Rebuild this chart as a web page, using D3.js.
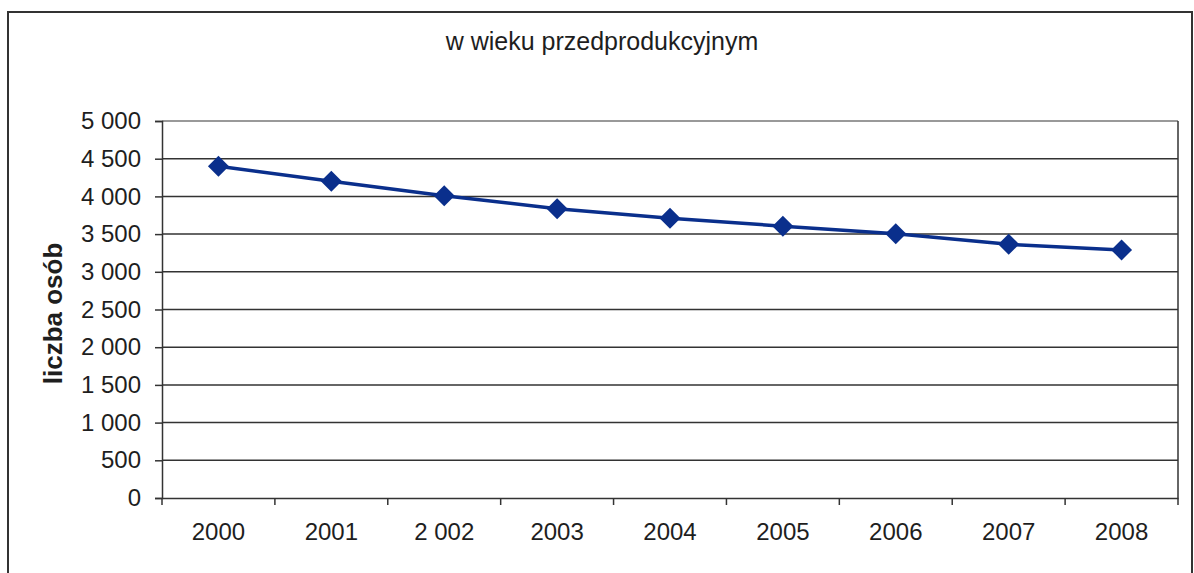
<!DOCTYPE html>
<html><head><meta charset="utf-8">
<script src="https://cdn.jsdelivr.net/npm/d3@7"></script>
<style>
body{margin:0;background:#fff;}
svg{display:block;font-family:"Liberation Sans",Arial,sans-serif;}
</style></head><body>
<svg id="c" width="1194" height="573"></svg>
<script>
const categories = ["2000","2001","2 002","2003","2004","2005","2006","2007","2008"];
const values = [4400, 4200, 4010, 3835, 3710, 3605, 3505, 3365, 3290];
const yTicks = [0,500,1000,1500,2000,2500,3000,3500,4000,4500,5000];
const title = "w wieku przedprodukcyjnym";
const yTitle = "liczba osób";

const svg = d3.select("#c");
const m = {left:162, right:1178, top:121, bottom:498};

// outer frame
svg.append("path").attr("d","M8,590 L8,12 L1192,12 L1192,590")
  .attr("fill","none").attr("stroke","#333").attr("stroke-width",2);

const x = d3.scaleBand().domain(categories).range([m.left,m.right]);
const y = d3.scaleLinear().domain([0,5000]).range([m.bottom,m.top]);
const fmt = v => d3.format(",")(v).replace(/,/g," ");

// gridlines
svg.append("g").selectAll("line").data(yTicks.filter(d=>d>0)).join("line")
  .attr("x1",m.left).attr("x2",m.right)
  .attr("y1",d=>y(d)).attr("y2",d=>y(d))
  .attr("stroke",d=>d===5000?"#777":"#333").attr("stroke-width",1.5);
// right border of plot
svg.append("line").attr("x1",m.right).attr("x2",m.right).attr("y1",m.top).attr("y2",m.bottom)
  .attr("stroke","#333").attr("stroke-width",1.5);

// y axis
const yAxis = d3.axisLeft(y).tickValues(yTicks).tickFormat(fmt).tickSizeOuter(0).tickSize(7).tickPadding(14);
const gy = svg.append("g").attr("transform",`translate(${m.left},0)`).call(yAxis);
gy.attr("font-size",null).attr("font-family",null);
gy.selectAll("text").attr("font-size",24).attr("fill","#1e1e1e");
gy.selectAll("line,path").attr("stroke","#333").attr("stroke-width",1.5);

// x axis
const xAxis = d3.axisBottom(x).tickSize(0).tickSizeOuter(0).tickPadding(25);
const gx = svg.append("g").attr("transform",`translate(0,${m.bottom})`).call(xAxis);
gx.attr("font-size",null).attr("font-family",null);
gx.selectAll("text").attr("font-size",24).attr("fill","#1e1e1e");
gx.select("path").attr("stroke","#333").attr("stroke-width",1.5);
// category boundary ticks
const bounds = categories.map(c=>x(c)).concat([x(categories[categories.length-1])+x.bandwidth()]);
svg.append("g").selectAll("line").data(bounds).join("line")
  .attr("x1",d=>d).attr("x2",d=>d).attr("y1",m.bottom).attr("y2",m.bottom+7)
  .attr("stroke","#333").attr("stroke-width",1.5);

// line
const cx = c => x(c)+x.bandwidth()/2;
svg.append("path").datum(values)
  .attr("d", d3.line().x((d,i)=>cx(categories[i])).y(d=>y(d)))
  .attr("fill","none").attr("stroke","#0a2f8c").attr("stroke-width",3.5);
svg.append("g").selectAll("path").data(values).join("path")
  .attr("transform",(d,i)=>`translate(${cx(categories[i])},${y(d)})`)
  .attr("d","M0,-10.5 L10.5,0 L0,10.5 L-10.5,0 Z")
  .attr("fill","#0a2f8c");

// titles
svg.append("text").attr("x",602).attr("y",50).attr("text-anchor","middle")
  .attr("font-size",25).attr("fill","#1e1e1e").text(title);
svg.append("text").attr("transform",`translate(62,${(m.top+m.bottom)/2+4}) rotate(-90)`)
  .attr("text-anchor","middle").attr("font-size",26).attr("font-weight","bold").attr("fill","#1e1e1e").text(yTitle);
</script>
</body></html>
